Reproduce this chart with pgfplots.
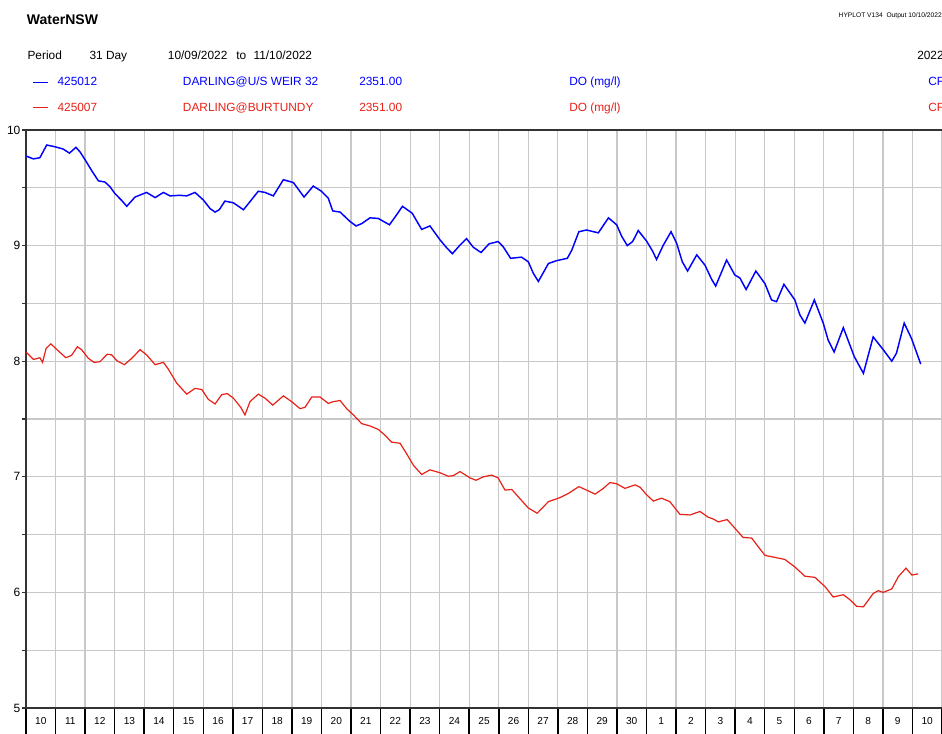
\documentclass[border=0pt]{standalone}
\usepackage{fontspec}
\setmainfont{Liberation Sans}
\usepackage{pgfplots}
\pgfplotsset{compat=1.18}
\definecolor{hblue}{RGB}{0,0,255}
\definecolor{hred}{RGB}{232,32,22}
\definecolor{hgrid}{RGB}{200,200,200}

\newcommand{\hdr}{\fontsize{8.9}{10}\selectfont}

\begin{document}
\begin{tikzpicture}
\begin{axis}[
    scale only axis, width=687pt, height=433.5pt,
    xmin=0, xmax=31, ymin=5, ymax=10,
    axis x line*=box, axis y line*=left,
    axis line style={black!80, line width=1.1pt},
    tick align=outside,
    major tick length=3pt, minor tick length=3pt,
    xtick={0,1,...,31}, xticklabels={}, xtick pos=left,
    xtick style={black, line width=1.1pt, /pgfplots/major tick length=19.5pt},
    ytick={5,6,7,8,9,10}, minor ytick={5.5,6.5,7.5,8.5,9.5},
    ytick style={black!80, line width=0.8pt},
    xmajorgrids, ymajorgrids, yminorgrids,
    major grid style={hgrid, line width=0.9pt},
    minor grid style={hgrid, line width=0.9pt},
    /pgf/number format/assume math mode=true,
    yticklabel style={font=\fontsize{9}{10}\selectfont, inner sep=1pt},
    extra x ticks={0.5,1.5,2.5,3.5,4.5,5.5,6.5,7.5,8.5,9.5,10.5,11.5,12.5,13.5,14.5,15.5,16.5,17.5,18.5,19.5,20.5,21.5,22.5,23.5,24.5,25.5,26.5,27.5,28.5,29.5,30.5},
    extra x tick labels={10,11,12,13,14,15,16,17,18,19,20,21,22,23,24,25,26,27,28,29,30,1,2,3,4,5,6,7,8,9,10},
    extra x tick style={grid=none, xtick style={draw=none}, /pgfplots/major tick length=0pt,
        xticklabel style={anchor=center, yshift=-9.6pt, font=\fontsize{7.6}{9}\selectfont}},
]
\coordinate (LL) at (rel axis cs:0,0);
\addplot[hblue, line width=1.1pt] table {
0 9.775
0.25 9.75
0.47 9.76
0.70 9.87
0.98 9.855
1.26 9.835
1.47 9.80
1.69 9.85
1.83 9.81
2.03 9.73
2.22 9.65
2.45 9.56
2.67 9.55
2.84 9.51
3.01 9.45
3.24 9.39
3.41 9.34
3.69 9.42
4.08 9.46
4.37 9.415
4.65 9.46
4.87 9.43
5.21 9.435
5.44 9.43
5.72 9.46
6.00 9.395
6.23 9.32
6.40 9.29
6.54 9.31
6.73 9.385
7.02 9.37
7.36 9.31
7.58 9.38
7.86 9.47
8.09 9.46
8.37 9.43
8.71 9.57
9.05 9.545
9.41 9.42
9.72 9.515
10.00 9.47
10.23 9.41
10.38 9.30
10.63 9.29
10.96 9.21
11.17 9.17
11.36 9.19
11.64 9.24
11.92 9.235
12.30 9.18
12.54 9.265
12.74 9.34
13.07 9.28
13.39 9.14
13.67 9.17
14.01 9.05
14.24 8.98
14.43 8.93
14.69 9.005
14.91 9.06
15.14 8.985
15.40 8.94
15.67 9.015
15.98 9.035
16.15 8.99
16.40 8.89
16.77 8.90
17.00 8.86
17.17 8.76
17.34 8.69
17.68 8.845
17.96 8.87
18.32 8.89
18.47 8.96
18.71 9.12
18.97 9.135
19.37 9.11
19.71 9.24
19.99 9.18
20.16 9.08
20.35 9.00
20.53 9.035
20.72 9.13
21.00 9.04
21.21 8.95
21.34 8.88
21.57 9.005
21.83 9.12
22.02 9.02
22.21 8.86
22.39 8.78
22.70 8.92
22.98 8.83
23.20 8.71
23.34 8.65
23.71 8.875
23.99 8.745
24.16 8.72
24.37 8.62
24.70 8.78
25.01 8.67
25.23 8.53
25.40 8.515
25.65 8.665
26.02 8.53
26.19 8.40
26.36 8.33
26.68 8.53
26.98 8.33
27.15 8.18
27.35 8.08
27.66 8.29
28.03 8.04
28.34 7.895
28.67 8.21
29.01 8.10
29.30 8.00
29.46 8.07
29.72 8.33
29.97 8.195
30.28 7.975
};
\addplot[hred, line width=0.9pt] table {
0 8.08
0.25 8.015
0.47 8.03
0.56 7.99
0.68 8.11
0.84 8.15
1.09 8.09
1.35 8.03
1.54 8.05
1.74 8.125
1.88 8.10
2.11 8.025
2.30 7.99
2.50 7.995
2.75 8.06
2.90 8.055
3.07 8.005
3.33 7.97
3.58 8.025
3.86 8.10
4.08 8.055
4.37 7.97
4.65 7.99
4.82 7.93
5.10 7.81
5.44 7.715
5.72 7.765
5.95 7.755
6.17 7.67
6.40 7.63
6.62 7.71
6.81 7.72
7.02 7.68
7.27 7.60
7.41 7.535
7.58 7.65
7.86 7.715
8.09 7.68
8.35 7.62
8.71 7.70
8.99 7.65
9.27 7.59
9.44 7.60
9.67 7.69
9.95 7.69
10.23 7.635
10.40 7.65
10.63 7.66
10.85 7.59
11.08 7.535
11.36 7.46
11.64 7.44
11.92 7.41
12.15 7.36
12.37 7.30
12.66 7.29
12.88 7.20
13.11 7.10
13.39 7.02
13.67 7.06
14.01 7.035
14.29 7.005
14.46 7.01
14.69 7.045
15.03 6.99
15.23 6.97
15.48 7.00
15.76 7.015
15.98 6.99
16.21 6.885
16.44 6.89
16.72 6.81
17.00 6.73
17.30 6.685
17.68 6.785
18.07 6.82
18.35 6.855
18.71 6.915
18.97 6.885
19.26 6.85
19.54 6.90
19.76 6.95
19.99 6.94
20.27 6.90
20.61 6.93
20.78 6.91
21.00 6.845
21.23 6.79
21.51 6.815
21.79 6.785
22.13 6.675
22.47 6.67
22.81 6.70
23.09 6.65
23.26 6.635
23.43 6.61
23.73 6.63
23.99 6.555
24.27 6.475
24.56 6.47
24.78 6.395
25.01 6.32
25.40 6.30
25.68 6.285
26.02 6.22
26.36 6.14
26.70 6.13
27.04 6.05
27.32 5.96
27.66 5.98
27.89 5.935
28.11 5.88
28.34 5.875
28.67 5.99
28.84 6.015
29.01 6.00
29.30 6.03
29.52 6.135
29.78 6.21
29.98 6.15
30.19 6.16
};
\end{axis}

% header block; one unit = one pixel of the reference, origin at the axis' lower left corner
\pgfresetboundingbox
\begin{scope}[shift={(LL)}, x=0.75pt, y=0.75pt]
\useasboundingbox (-26,-26) rectangle (916,708);
\node[anchor=base west, inner sep=0pt, font=\fontsize{10.5}{12}\selectfont\bfseries] at (0.7,683) {WaterNSW};
\node[anchor=base east, inner sep=0pt, font=\fontsize{5}{6}\selectfont] at (916,690) {HYPLOT V134\ \ Output 10/10/2022};
\node[anchor=base west, inner sep=0pt, font=\hdr] at (1.3,648) {Period};
\node[anchor=base west, inner sep=0pt, font=\hdr] at (63.3,648) {31 Day};
\node[anchor=base west, inner sep=0pt, font=\hdr] at (141.7,648) {10/09/2022};
\node[anchor=base west, inner sep=0pt, font=\hdr] at (210,648) {to};
\node[anchor=base west, inner sep=0pt, font=\hdr] at (227.3,648) {11/10/2022};
\node[anchor=base west, inner sep=0pt, font=\hdr] at (891,648) {2022};

\draw[hblue, line width=0.9pt] (7,625.3) -- (22,625.3);
\node[anchor=base west, inner sep=0pt, font=\hdr, text=hblue] at (31.3,622) {425012};
\node[anchor=base west, inner sep=0pt, font=\hdr, text=hblue] at (156.7,622) {DARLING@U/S WEIR 32};
\node[anchor=base west, inner sep=0pt, font=\hdr, text=hblue] at (333,622) {2351.00};
\node[anchor=base west, inner sep=0pt, font=\hdr, text=hblue] at (543,622) {DO (mg/l)};
\node[anchor=base west, inner sep=0pt, font=\hdr, text=hblue] at (902,622) {CF};

\draw[hred, line width=0.9pt] (7,600.7) -- (22,600.7);
\node[anchor=base west, inner sep=0pt, font=\hdr, text=hred] at (31.3,596) {425007};
\node[anchor=base west, inner sep=0pt, font=\hdr, text=hred] at (156.7,596) {DARLING@BURTUNDY};
\node[anchor=base west, inner sep=0pt, font=\hdr, text=hred] at (333,596) {2351.00};
\node[anchor=base west, inner sep=0pt, font=\hdr, text=hred] at (543,596) {DO (mg/l)};
\node[anchor=base west, inner sep=0pt, font=\hdr, text=hred] at (902,596) {CF};
\end{scope}
\end{tikzpicture}
\end{document}
